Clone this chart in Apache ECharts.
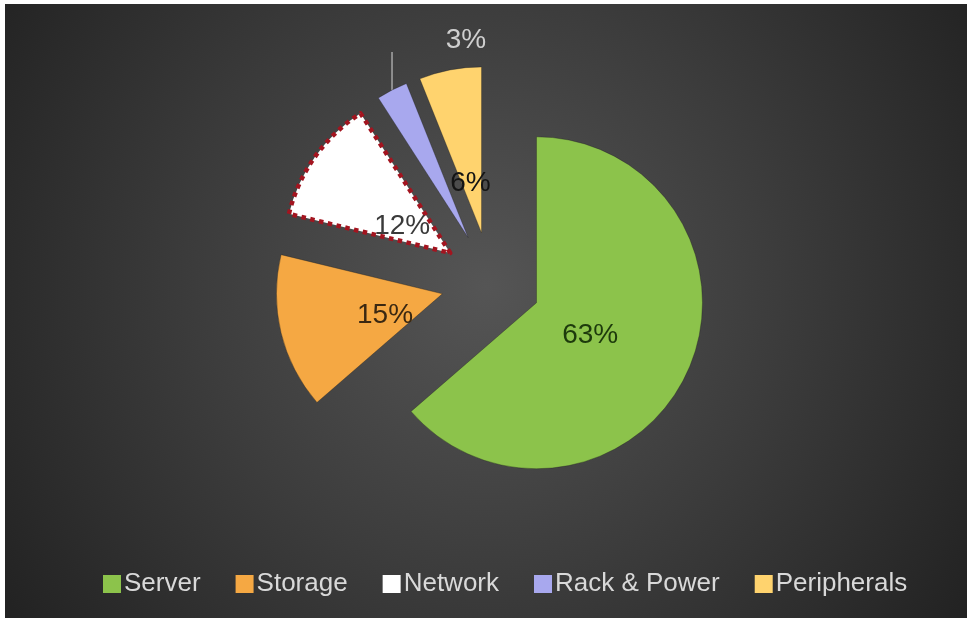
<!DOCTYPE html>
<html>
<head>
<meta charset="utf-8">
<title>Data Center Spend Breakdown</title>
<script src="https://cdn.jsdelivr.net/npm/echarts@6/dist/echarts.min.js"></script>
<style>
  html, body { margin: 0; padding: 0; background: #ffffff; }
  #chart { position: absolute; left: 5px; top: 4px; width: 962px; height: 614px; }
</style>
</head>
<body>
<div id="chart"></div>
<script>
// Share of spend per category (percent)
const categories = ['Server', 'Storage', 'Network', 'Rack & Power', 'Peripherals'];
const shares = [63, 15, 12, 3, 6];
const sliceColors = ['#8cc34b', '#f5a843', '#ffffff', '#a8a8ee', '#ffd36e'];
const labelColors = ['#1d3a0c', '#3a2812', '#3a3a3a', '#cfcfcf', '#141414'];
const outsideLabelIndex = 3; // Rack & Power label sits above the pie

const FONT = '"Liberation Sans", Arial, Helvetica, sans-serif';
const PIE_CENTER = [486, 278];
const PIE_RADIUS = 166;
const EXPLODE = 50;

const chart = echarts.init(document.getElementById('chart'), null, { renderer: 'canvas' });

// Slices, every one pulled out from the centre
const sliceData = categories.map((name, i) => {
  const item = {
    name: name,
    value: shares[i],
    selected: true,
    itemStyle: { color: sliceColors[i], borderColor: 'rgba(30,30,30,0.35)', borderWidth: 1 },
    label: { show: false },
    labelLine: { show: false }
  };
  if (name === 'Network') {
    item.itemStyle.borderColor = '#a3141f';
    item.itemStyle.borderWidth = 4.5;
    item.itemStyle.borderType = [4.5, 4.5];
  }
  if (i === outsideLabelIndex) {
    item.label = {
      show: true,
      position: 'outside',
      formatter: '{c}%',
      color: labelColors[i],
      fontSize: 28,
      fontFamily: FONT
    };
    item.labelLine = { show: true, length: 20, length2: 0, lineStyle: { color: '#a6a6a6', width: 1.5 } };
  }
  return item;
});

// Invisible inner ring that only carries the in-slice value labels
const labelData = categories.map((name, i) => ({
  name: name,
  value: shares[i],
  selected: true,
  itemStyle: { color: 'rgba(0,0,0,0)' },
  label: {
    show: i !== outsideLabelIndex,
    position: 'inside',
    formatter: '{c}%',
    color: labelColors[i],
    fontSize: 28,
    fontFamily: FONT
  }
}));

const option = {
  backgroundColor: {
    type: 'radial', x: 0.5, y: 0.46, r: 0.95,
    colorStops: [
      { offset: 0, color: '#555555' },
      { offset: 0.5, color: '#3c3c3c' },
      { offset: 1, color: '#222222' }
    ]
  },
  animation: false,
  legend: {
    data: categories,
    left: 93,
    top: 562,
    icon: 'rect',
    itemWidth: 18,
    itemHeight: 18,
    itemGap: 35,
    itemStyle: { borderWidth: 0 },
    textStyle: { color: '#d9d9d9', fontSize: 26, fontFamily: FONT, padding: [0, 0, 0, -2] },
    selectedMode: false
  },
  series: [
    {
      type: 'pie',
      name: 'Spend',
      center: PIE_CENTER,
      radius: PIE_RADIUS,
      startAngle: 90,
      clockwise: true,
      selectedMode: 'multiple',
      selectedOffset: EXPLODE,
      avoidLabelOverlap: false,
      emphasis: { disabled: true },
      data: sliceData,
      labelLayout: function (params) {
        if (params.dataIndex !== outsideLabelIndex || !params.labelLinePoints) return {};
        const p0 = params.labelLinePoints[0];
        const top = [p0[0], p0[1] - 38];
        const r = params.labelRect;
        // put the value text up and to the right of the leader line
        const cx = r.x + r.width / 2;
        const cy = r.y + r.height / 2;
        return {
          dx: (p0[0] + 74) - cx,
          dy: (p0[1] - 50) - cy,
          labelLinePoints: [p0, top, top]
        };
      }
    },
    {
      type: 'pie',
      name: 'Labels',
      center: PIE_CENTER,
      radius: 112,
      startAngle: 90,
      clockwise: true,
      silent: true,
      selectedMode: 'multiple',
      selectedOffset: EXPLODE,
      avoidLabelOverlap: false,
      minShowLabelAngle: 0,
      // nudge the in-slice values a little below their anchor point
      labelLayout: function () {
        return { dy: 8, hideOverlap: false };
      },
      emphasis: { disabled: true },
      labelLine: { show: false },
      data: labelData
    }
  ]
};

chart.setOption(option);
</script>
</body>
</html>
